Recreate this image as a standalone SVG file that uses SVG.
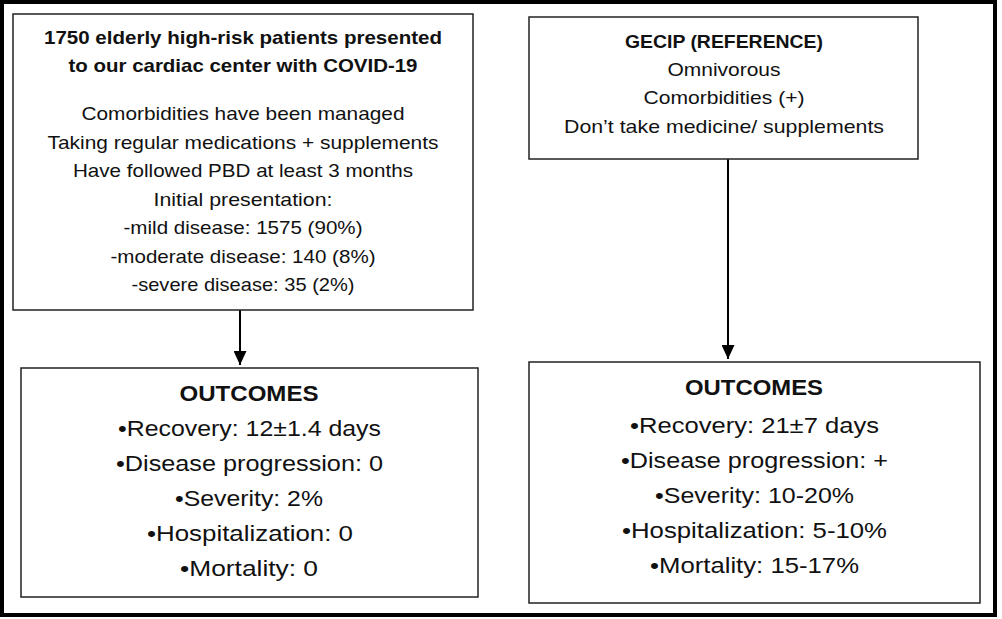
<svg xmlns="http://www.w3.org/2000/svg" width="1002" height="619" viewBox="0 0 1002 619">
<style>
.box{fill:#fff;stroke:#222;stroke-width:1.5}
.t{font-family:"Liberation Sans",Arial,sans-serif;fill:#111;text-anchor:middle}
.b{font-weight:bold}
.s1{font-size:19px}
.s2{font-size:22.5px}
.con{stroke:#000;stroke-width:2;fill:none}
</style>
<defs>
<marker id="ah" viewBox="0 0 14 13" refX="14" refY="6.5" markerWidth="14" markerHeight="13" markerUnits="userSpaceOnUse" orient="auto">
<path d="M0,0 L14,6.5 L0,13 Z" fill="#000"/>
</marker>
</defs>
<rect width="1002" height="619" fill="#fff"/>
<rect x="2" y="2" width="993" height="613" fill="none" stroke="#000" stroke-width="4"/>

<g id="connectors">
<line class="con" x1="240" y1="310" x2="240" y2="365" marker-end="url(#ah)"/>
<line class="con" x1="728" y1="159" x2="728" y2="359" marker-end="url(#ah)"/>
</g>

<g id="node-patients">
<rect class="box" x="13" y="14" width="460" height="296"/>
<text class="t b s1" x="243" y="44" textLength="398" lengthAdjust="spacingAndGlyphs">1750 elderly high-risk patients presented</text>
<text class="t b s1" x="243" y="72" textLength="349" lengthAdjust="spacingAndGlyphs">to our cardiac center with COVID-19</text>
<text class="t s1" x="243" y="120" textLength="323" lengthAdjust="spacingAndGlyphs">Comorbidities have been managed</text>
<text class="t s1" x="243" y="148.5" textLength="391" lengthAdjust="spacingAndGlyphs">Taking regular medications + supplements</text>
<text class="t s1" x="243" y="177" textLength="340" lengthAdjust="spacingAndGlyphs">Have followed PBD at least 3 months</text>
<text class="t s1" x="243" y="205.5" textLength="179" lengthAdjust="spacingAndGlyphs">Initial presentation:</text>
<text class="t s1" x="243" y="234" textLength="239" lengthAdjust="spacingAndGlyphs">-mild disease: 1575 (90%)</text>
<text class="t s1" x="243" y="262.5" textLength="265" lengthAdjust="spacingAndGlyphs">-moderate disease: 140 (8%)</text>
<text class="t s1" x="243" y="291" textLength="223" lengthAdjust="spacingAndGlyphs">-severe disease: 35 (2%)</text>
</g>

<g id="node-gecip">
<rect class="box" x="529" y="17" width="389" height="142"/>
<text class="t b s1" x="724" y="48" textLength="198" lengthAdjust="spacingAndGlyphs">GECIP (REFERENCE)</text>
<text class="t s1" x="724" y="75.5" textLength="113" lengthAdjust="spacingAndGlyphs">Omnivorous</text>
<text class="t s1" x="724" y="104" textLength="161" lengthAdjust="spacingAndGlyphs">Comorbidities (+)</text>
<text class="t s1" x="724" y="133" textLength="320" lengthAdjust="spacingAndGlyphs">Don’t take medicine/ supplements</text>
</g>

<g id="node-outcomes-left">
<rect class="box" x="21" y="368" width="457" height="229"/>
<text class="t b s2" x="249" y="401" textLength="139" lengthAdjust="spacingAndGlyphs">OUTCOMES</text>
<text class="t s2" x="249.5" y="436" textLength="263" lengthAdjust="spacingAndGlyphs">•Recovery: 12±1.4 days</text>
<text class="t s2" x="249.5" y="471" textLength="267" lengthAdjust="spacingAndGlyphs">•Disease progression: 0</text>
<text class="t s2" x="249" y="506" textLength="148" lengthAdjust="spacingAndGlyphs">•Severity: 2%</text>
<text class="t s2" x="250" y="541" textLength="206" lengthAdjust="spacingAndGlyphs">•Hospitalization: 0</text>
<text class="t s2" x="249" y="576" textLength="138" lengthAdjust="spacingAndGlyphs">•Mortality: 0</text>
</g>

<g id="node-outcomes-right">
<rect class="box" x="529" y="362" width="451" height="241"/>
<text class="t b s2" x="754" y="395" textLength="138" lengthAdjust="spacingAndGlyphs">OUTCOMES</text>
<text class="t s2" x="754.5" y="433" textLength="249" lengthAdjust="spacingAndGlyphs">•Recovery: 21±7 days</text>
<text class="t s2" x="754.5" y="468" textLength="267" lengthAdjust="spacingAndGlyphs">•Disease progression: +</text>
<text class="t s2" x="754.5" y="503" textLength="199" lengthAdjust="spacingAndGlyphs">•Severity: 10-20%</text>
<text class="t s2" x="754.5" y="538" textLength="265" lengthAdjust="spacingAndGlyphs">•Hospitalization: 5-10%</text>
<text class="t s2" x="754.5" y="573" textLength="209" lengthAdjust="spacingAndGlyphs">•Mortality: 15-17%</text>
</g>
</svg>
